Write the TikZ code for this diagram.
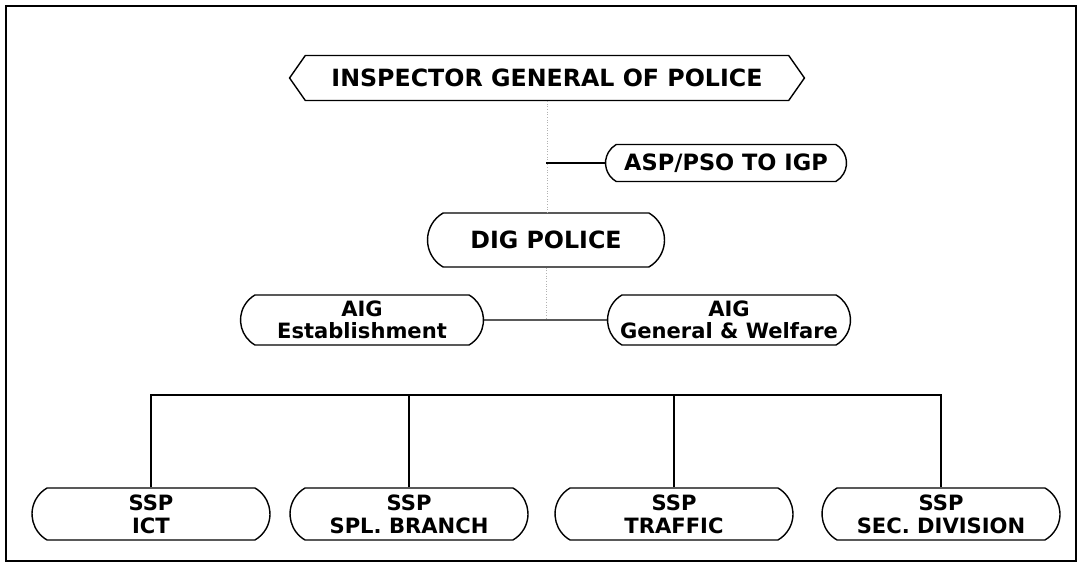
\documentclass[tikz,border=0pt]{standalone}
\usepackage{fontspec}
\setmainfont{DejaVu Sans}
\usetikzlibrary{shapes.misc,shapes.symbols}
\tikzset{
  office/.style={draw, line width=0.8pt, rounded rectangle, rounded rectangle arc length=120,
    align=center, inner sep=0pt, font=\bfseries\fontsize{12}{12.5}\selectfont},
  link/.style={line width=0.8pt},
  faint/.style={draw=gray!60, line width=0.5pt, densely dotted}
}
\begin{document}
\begin{tikzpicture}[x=0.02cm,y=-0.02cm]
    \useasboundingbox (0,0) rectangle (1081,570);
    \draw[line width=1.4pt] (6,6) rectangle (1076,561);
    \node[draw, line width=0.8pt, signal, signal to=west and east, signal pointer angle=110,
      minimum width=10.3cm, minimum height=0.9cm, inner sep=0pt,
      font=\bfseries\fontsize{13.5}{14}\selectfont] (igp) at (547,78) {INSPECTOR GENERAL OF POLICE};
    \node[office, minimum width=4.82cm, minimum height=0.74cm,
      font=\bfseries\fontsize{12.8}{13}\selectfont] (asp) at (726,163) {ASP/PSO TO IGP};
    \node[office, minimum width=4.74cm, minimum height=1.08cm,
      font=\bfseries\fontsize{13.5}{14}\selectfont] (dig) at (546,240) {DIG POLICE};
    \node[office, minimum width=4.86cm, minimum height=1cm] (est) at (362,320) {AIG\\Establishment};
    \node[office, minimum width=4.86cm, minimum height=1cm] (welf) at (729,320) {AIG\\General \& Welfare};
    \foreach \n/\x/\lbl in {ict/151/ICT, spl/409/SPL. BRANCH, traffic/674/TRAFFIC, sec/941/SEC. DIVISION}
      \node[office, minimum width=4.76cm, minimum height=1.04cm,
        font=\bfseries\fontsize{12}{13}\selectfont] (\n) at (\x,514) {SSP\\\lbl};
    \coordinate (trunk) at (546,163);
    \coordinate (bus) at (546,395);
    \draw[faint] (igp.south) -- (igp.south |- dig.north);
    \draw[faint] (dig.south) -- (dig.south |- est.east);
    \draw[link] (trunk) -- (asp);
    \draw[link] (est) -- (welf);
    \draw[link] (ict.north) |- (bus) -| (sec.north);
    \foreach \n in {spl,traffic}
      \draw[link] (\n.north) -- (\n.north |- bus);
\end{tikzpicture}
\end{document}
